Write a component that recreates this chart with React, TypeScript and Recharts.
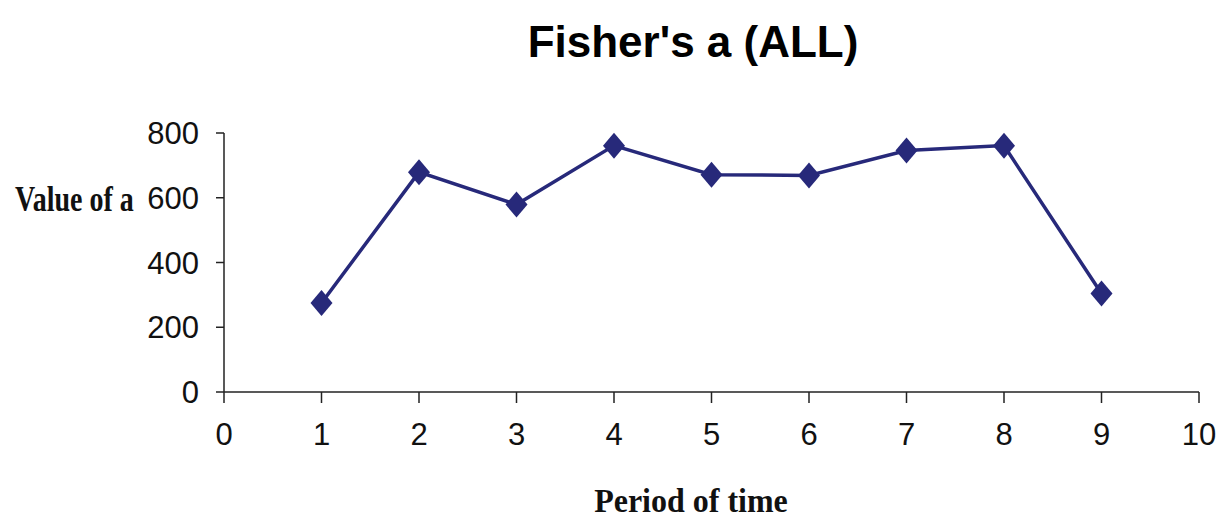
import React from 'react';
import { LineChart, Line, XAxis, YAxis } from 'recharts';

// Fisher's alpha per period of time (all samples)
const periods = [1, 2, 3, 4, 5, 6, 7, 8, 9];
const fisherAlpha = [275, 679, 579, 761, 671, 669, 746, 761, 304];
const xTicks = [0, 1, 2, 3, 4, 5, 6, 7, 8, 9, 10];
const yTicks = [0, 200, 400, 600, 800];

const navy = '#27297a';
const axisColor = '#222';

const data = periods.map((p, i) => ({ period: p, alpha: fisherAlpha[i] }));

const Diamond = (props: any) => {
  const { cx, cy, index } = props;
  if (cx == null || cy == null) return null;
  return (
    <polygon
      key={`d-${index}`}
      points={`${cx},${cy - 13} ${cx + 11},${cy} ${cx},${cy + 13} ${cx - 11},${cy}`}
      fill={navy}
    />
  );
};

const tickStyle = { fill: '#111', fontSize: 31, fontFamily: '"Liberation Sans", Arial, sans-serif' };

export default function App() {
  return (
    <div style={{ position: 'absolute', left: 0, top: 0, width: 1222, height: 520, background: '#fff' }}>
      <LineChart
        width={1222}
        height={520}
        data={data}
        margin={{ top: 133, right: 23, bottom: 68, left: 0 }}
      >
        <XAxis
          type="number"
          dataKey="period"
          domain={[0, 10]}
          ticks={xTicks}
          interval={0}
          height={60}
          tickSize={11}
          tickMargin={20}
          tick={tickStyle}
          axisLine={{ stroke: axisColor, strokeWidth: 1.5 }}
          tickLine={{ stroke: axisColor, strokeWidth: 1.5 }}
        />
        <YAxis
          type="number"
          domain={[0, 800]}
          ticks={yTicks}
          interval={0}
          width={224}
          tickSize={8}
          tickMargin={17}
          tick={tickStyle}
          axisLine={{ stroke: axisColor, strokeWidth: 1.5 }}
          tickLine={{ stroke: axisColor, strokeWidth: 1.5 }}
        />
        <Line
          type="linear"
          dataKey="alpha"
          stroke={navy}
          strokeWidth={3.5}
          dot={Diamond}
          activeDot={false}
          isAnimationActive={false}
        />
      </LineChart>
      <svg
        width={1222}
        height={520}
        style={{ position: 'absolute', left: 0, top: 0, pointerEvents: 'none' }}
      >
        <text
          x={693}
          y={57}
          textAnchor="middle"
          fontFamily='"Liberation Sans", Arial, sans-serif'
          fontWeight="bold"
          fontSize={44}
          fill="#000"
        >
          Fisher's a (ALL)
        </text>
        <text
          transform="translate(15,211) scale(1,1.3)"
          fontFamily='"Liberation Serif", "Times New Roman", serif'
          fontWeight="bold"
          fontSize={28}
          fill="#111"
        >
          Value of a
        </text>
        <text
          transform="translate(691,512) scale(1,1.08)"
          textAnchor="middle"
          fontFamily='"Liberation Serif", "Times New Roman", serif'
          fontWeight="bold"
          fontSize={32}
          fill="#111"
        >
          Period of time
        </text>
      </svg>
    </div>
  );
}
